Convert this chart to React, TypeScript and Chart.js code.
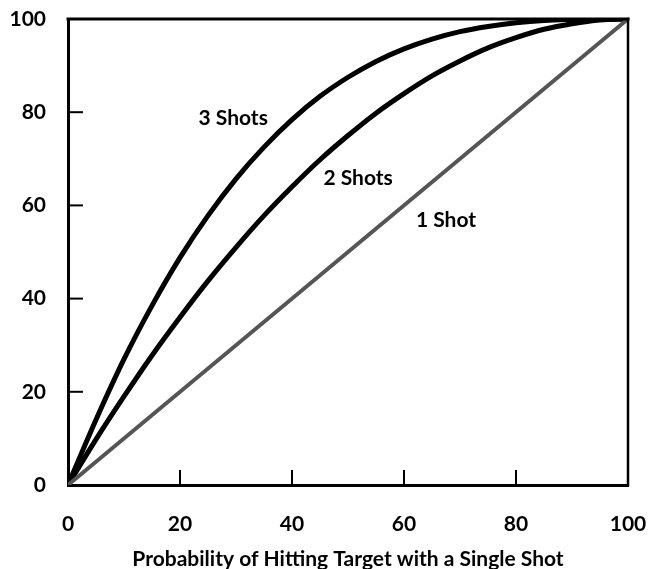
import React, { useEffect, useRef } from "react";
import { Chart, registerables } from "chart.js";

Chart.register(...registerables);

// Probability of hitting target with a single shot (%)
const xValues = [0, 5, 10, 15, 20, 25, 30, 35, 40, 45, 50, 55, 60, 65, 70, 75, 80, 85, 90, 95, 100];
const threeShots = [0, 14, 27, 38.5, 48.8, 57.8, 65.7, 72.5, 78.4, 83.4, 87.5, 90.9, 93.6, 95.7, 97.3, 98.4, 99.2, 99.7, 99.9, 100, 100];
const twoShots = [0, 9.8, 19, 27.8, 36, 43.8, 51, 57.8, 64, 69.8, 75, 79.8, 84, 87.8, 91, 93.8, 96, 97.8, 99, 99.8, 100];
const oneShotX = [0, 100];
const oneShot = [0, 100];

const axisTicks = [0, 20, 40, 60, 80, 100];
const xTitle = "Probability of Hitting Target with a Single Shot";

const curveLabels = ["3 Shots", "2 Shots", "1 Shot"];
const labelX = [29.5, 51.8, 67.5];
const labelY = [78.8, 65.9, 56.9];

const FONT = "Lato, 'DejaVu Sans Condensed', sans-serif";

const framePlugin = {
  id: "frame",
  afterDatasetsDraw(chart: any) {
    const { ctx, chartArea, scales } = chart;
    const { left, right, top, bottom } = chartArea;
    ctx.save();
    ctx.strokeStyle = "#000";
    ctx.lineCap = "square";
    ctx.lineWidth = 3;
    ctx.beginPath();
    ctx.moveTo(left, top);
    ctx.lineTo(right, top);
    ctx.stroke();
    ctx.lineWidth = 2.5;
    ctx.beginPath();
    ctx.moveTo(right, top);
    ctx.lineTo(right, bottom);
    ctx.stroke();
    // inward tick marks
    ctx.lineWidth = 2;
    ctx.lineCap = "butt";
    const tickLen = 15;
    for (const v of axisTicks) {
      if (v === 0 || v === 100) continue;
      const px = scales.x.getPixelForValue(v);
      ctx.beginPath();
      ctx.moveTo(px, bottom);
      ctx.lineTo(px, bottom - tickLen);
      ctx.stroke();
      const py = scales.y.getPixelForValue(v);
      ctx.beginPath();
      ctx.moveTo(left, py);
      ctx.lineTo(left + tickLen, py);
      ctx.stroke();
    }
    // curve labels
    ctx.fillStyle = "#000";
    ctx.font = "bold 21px " + FONT;
    ctx.textAlign = "center";
    ctx.textBaseline = "middle";
    curveLabels.forEach((t, i) => {
      ctx.fillText(t, scales.x.getPixelForValue(labelX[i]), scales.y.getPixelForValue(labelY[i]));
    });
    ctx.restore();
  },
};

export default function App() {
  const ref = useRef<HTMLCanvasElement | null>(null);

  useEffect(() => {
    if (!ref.current) return;
    const toPts = (xs: number[], ys: number[]) => xs.map((x, i) => ({ x, y: ys[i] }));
    const chart = new Chart(ref.current, {
      type: "line",
      data: {
        datasets: [
          {
            label: "1 Shot",
            data: toPts(oneShotX, oneShot),
            borderColor: "#555555",
            borderWidth: 4,
            pointRadius: 0,
            fill: false,
          },
          {
            label: "2 Shots",
            data: toPts(xValues, twoShots),
            borderColor: "#000",
            borderWidth: 5,
            pointRadius: 0,
            cubicInterpolationMode: "monotone",
            fill: false,
          },
          {
            label: "3 Shots",
            data: toPts(xValues, threeShots),
            borderColor: "#000",
            borderWidth: 5,
            pointRadius: 0,
            cubicInterpolationMode: "monotone",
            fill: false,
          },
        ],
      },
      options: {
        animation: false,
        responsive: true,
        maintainAspectRatio: false,
        layout: { padding: { top: 19, right: 23, left: 0, bottom: 0 } },
        plugins: { legend: { display: false }, tooltip: { enabled: false } },
        scales: {
          x: {
            type: "linear",
            min: 0,
            max: 100,
            afterFit: (s: any) => {
              s.height = 84;
              s.paddingLeft = 0;
              s.paddingRight = 0;
            },
            afterBuildTicks: (s: any) => {
              s.ticks = axisTicks.map((v) => ({ value: v }));
            },
            grid: { display: false, drawTicks: false },
            border: { display: true, color: "#000", width: 3 },
            ticks: {
              color: "#000",
              padding: 27,
              maxRotation: 0,
              font: { family: FONT, size: 21, weight: "bold" },
            },
            title: {
              display: true,
              text: xTitle,
              color: "#000",
              padding: { top: 0, bottom: -3 },
              font: { family: FONT, size: 21, weight: "bold" },
            },
          },
          y: {
            type: "linear",
            min: 0,
            max: 100,
            afterFit: (s: any) => {
              s.width = 68;
              s.paddingTop = 0;
              s.paddingBottom = 0;
            },
            afterBuildTicks: (s: any) => {
              s.ticks = axisTicks.map((v) => ({ value: v }));
            },
            grid: { display: false, drawTicks: false },
            border: { display: true, color: "#000", width: 3 },
            ticks: {
              color: "#000",
              padding: 22,
              font: { family: FONT, size: 21, weight: "bold" },
            },
          },
        },
      },
      plugins: [framePlugin],
    } as any);
    return () => chart.destroy();
  }, []);

  return (
    <div style={{ position: "absolute", left: 0, top: 0, width: 651, height: 569, background: "#fff" }}>
      <canvas ref={ref} />
    </div>
  );
}
